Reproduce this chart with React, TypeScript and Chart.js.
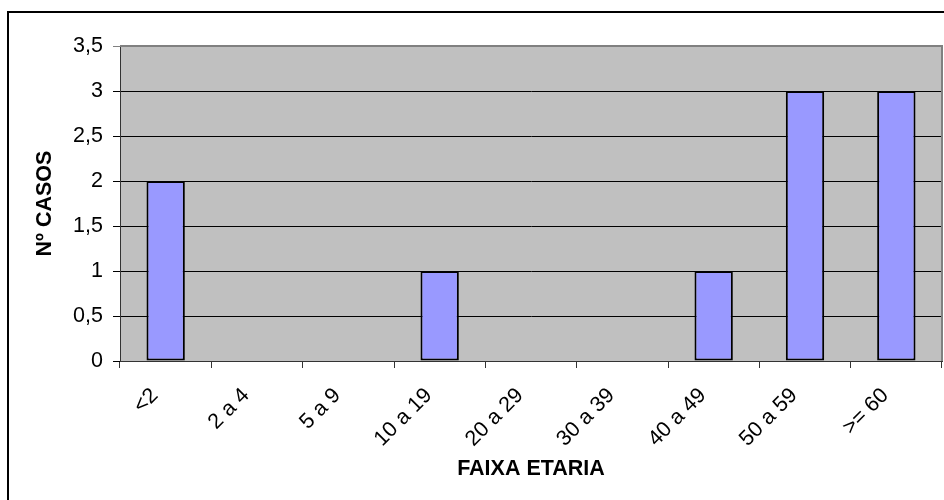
import React, { useEffect, useRef } from 'react';
import { Chart, registerables } from 'chart.js';

Chart.register(...registerables);

const categories = ['<2', '2 a 4', '5 a 9', '10 a 19', '20 a 29', '30 a 39', '40 a 49', '50 a 59', '>= 60'];
const casos = [2, 0, 0, 1, 0, 0, 1, 3, 3];
const yTickValues = [0, 0.5, 1, 1.5, 2, 2.5, 3, 3.5];
const xAxisTitle = 'FAIXA ETARIA';
const yAxisTitle = 'Nº CASOS';

const FONT = '"Liberation Sans", Arial, sans-serif';

const framePlugin = {
  id: 'excelFrame',
  beforeDraw(chart: any) {
    const { ctx, chartArea: a } = chart;
    ctx.save();
    ctx.fillStyle = '#ffffff';
    ctx.fillRect(0, 0, chart.width, chart.height);
    ctx.fillStyle = '#C0C0C0';
    ctx.fillRect(a.left, a.top, a.right - a.left, a.bottom - a.top);
    ctx.restore();
  },
  afterDraw(chart: any) {
    const { ctx, chartArea: a } = chart;
    ctx.save();
    ctx.strokeStyle = '#808080';
    ctx.lineWidth = 2;
    ctx.beginPath();
    ctx.moveTo(a.left, a.top);
    ctx.lineTo(a.right, a.top);
    ctx.lineTo(a.right, a.bottom);
    ctx.stroke();
    ctx.strokeStyle = '#000000';
    ctx.lineWidth = 2;
    ctx.strokeRect(8, 12, chart.width + 20, chart.height + 20);
    ctx.restore();
  },
};

export default function App() {
  const ref = useRef<HTMLCanvasElement | null>(null);

  useEffect(() => {
    if (!ref.current) return;
    const chart = new Chart(ref.current, {
      type: 'bar',
      data: {
        labels: categories,
        datasets: [
          {
            label: yAxisTitle,
            data: casos,
            backgroundColor: '#9999FF',
            borderColor: '#000000',
            borderWidth: (c: any) => (c.raw === 0 ? 0 : 2),
            borderSkipped: false,
            categoryPercentage: 1,
            barPercentage: 0.42,
          },
        ],
      },
      options: {
        animation: false,
        responsive: false,
        maintainAspectRatio: false,
        layout: { padding: { top: 46, right: 2, left: 0, bottom: 0 } },
        plugins: { legend: { display: false }, tooltip: { enabled: false } },
        scales: {
          x: {
            offset: true,
            grid: {
              offset: true,
              drawOnChartArea: false,
              drawTicks: true,
              tickLength: 7,
              color: '#333333',
            },
            border: { color: '#333333', width: 1 },
            ticks: {
              autoSkip: false,
              minRotation: 45,
              maxRotation: 45,
              padding: 15,
              labelOffset: -11,
              color: '#000000',
              font: { family: FONT, size: 21.5 },
            },
            title: {
              display: true,
              text: xAxisTitle,
              color: '#000000',
              font: { family: FONT, size: 21.5, weight: 'bold' },
              padding: { top: 0, bottom: 18 },
            },
            afterFit: (s: any) => {
              s.height = 139;
            },
          },
          y: {
            min: 0,
            max: 3.5,
            afterBuildTicks: (s: any) => {
              s.ticks = yTickValues.map((v) => ({ value: v }));
            },
            grid: {
              color: (c: any) => (c.tick && c.tick.value === 3.5 ? '#808080' : '#000000'),
              lineWidth: 1,
              drawTicks: true,
              tickLength: 7,
            },
            border: { color: '#333333', width: 1 },
            ticks: {
              padding: 10,
              color: '#000000',
              font: { family: FONT, size: 21.5 },
              callback: (v: any) => String(v).replace('.', ','),
            },
            title: {
              display: true,
              text: yAxisTitle,
              color: '#000000',
              font: { family: FONT, size: 21.5, weight: 'bold' },
              padding: { top: 32, bottom: 0 },
            },
            afterFit: (s: any) => {
              s.width = 120;
            },
          },
        },
      },
      plugins: [framePlugin],
    });
    return () => chart.destroy();
  }, []);

  return (
    <div style={{ position: 'absolute', left: 0, top: 0, width: 944, height: 500 }}>
      <canvas ref={ref} width={944} height={500} style={{ display: 'block', width: 944, height: 500 }} />
    </div>
  );
}
